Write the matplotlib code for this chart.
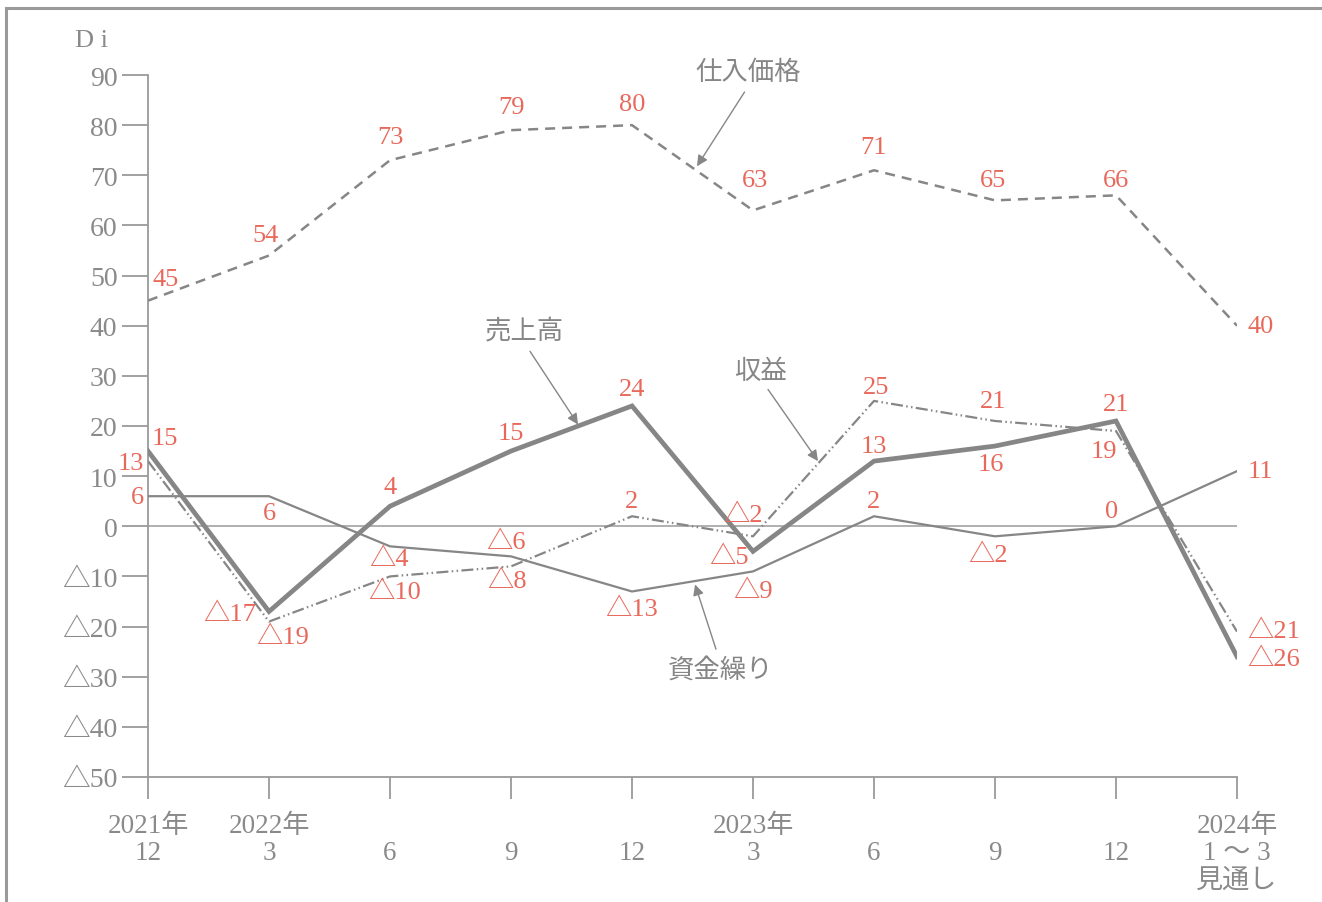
import matplotlib
matplotlib.use("Agg")
import matplotlib.pyplot as plt
from matplotlib.lines import Line2D

plt.rcParams["font.family"] = ["Liberation Serif", "Noto Sans CJK JP"]

GRAY = "#868686"
RED = "#e8695c"
TICK = "#8a8a8a"

# quarters on the x axis
xlabels = ["2021年\n12", "2022年\n3", "\n6", "\n9", "\n12",
           "2023年\n3", "\n6", "\n9", "\n12", "2024年\n1 ～ 3\n見通し"]

# DI values per series
purchase = [45, 54, 73, 79, 80, 63, 71, 65, 66, 40]     # 仕入価格
sales = [15, -17, 4, 15, 24, -5, 13, 16, 21, -26]       # 売上高
profit = [13, -19, -10, -8, 2, -2, 25, 21, 19, -21]     # 収益
cashflow = [6, 6, -4, -6, -13, -9, 2, -2, 0, 11]        # 資金繰り

yticks = list(range(-50, 91, 10))

# value label offsets in pixels (dx, dy)
purchase_off = [(18, 22), (-4, 21), (0, 23), (0, 23), (0, 21),
                (2, 30), (0, 23), (-2, 20), (0, 15), (24, 0)]
sales_off = [(17, 13), (-39, -2), (0, 19), (0, 18), (0, 17),
             (-24, -6), (0, 15), (-4, -18), (0, 17), (37, -2)]
profit_off = [(-17, -2), (14, -15), (5, -16), (-4, -15), (0, 15),
              (-10, 21), (2, 14), (-2, 20), (-12, -20), (37, 1)]
cash_off = [(-11, -1), (0, -17), (-1, -13), (-5, 14), (0, -18),
            (0, -20), (0, 15), (-7, -19), (-4, 15), (23, 0)]


def fmt(v):
    return f"△{abs(v)}" if v < 0 else str(v)


fig = plt.figure(figsize=(13.22, 9.03), dpi=100)
ax = fig.add_axes([148 / 1322, 125 / 903, 1089 / 1322, 702 / 903])

x = list(range(len(xlabels)))

ax.axhline(0, color="#9a9a9a", lw=1.1, zorder=1)

ax.plot(x, purchase, color=GRAY, lw=1.8, dashes=(4, 2.8), zorder=3)
ax.plot(x, cashflow, color=GRAY, lw=1.6, zorder=3)
ax.plot(x, profit, color=GRAY, lw=1.6,
        dashes=(5.4, 1.5, 0.7, 1.5, 0.7, 1.5), zorder=3)
ax.plot(x, sales, color=GRAY, lw=3.4, solid_joinstyle="miter", zorder=4)

for vals, offs in [(purchase, purchase_off), (sales, sales_off),
                   (profit, profit_off), (cashflow, cash_off)]:
    for xi, v, (dx, dy) in zip(x, vals, offs):
        ax.annotate(fmt(v), (xi, v), xytext=(dx, dy), textcoords="offset pixels",
                    ha="center", va="center", color=RED, fontsize=19, zorder=5)

# series names with arrows
arrow = dict(arrowstyle="-|>", color=GRAY, lw=1.0, mutation_scale=16,
             shrinkA=0, shrinkB=0)
names = [("仕入価格", (4.537, 71.8), (4.93, 86.6), (4.96, 90.6)),
         ("売上高", (3.554, 20.3), (3.157, 34.9), (3.11, 39.2)),
         ("収益", (5.537, 13.0), (5.124, 27.3), (5.06, 31.0)),
         ("資金繰り", (4.521, -11.6), (4.694, -24.5), (4.73, -28.6))]
for name, head, tail, pos in names:
    ax.annotate("", head, xytext=tail, arrowprops=arrow, zorder=6)
    ax.text(pos[0], pos[1], name, ha="center", va="center",
            color=GRAY, fontsize=19)

ax.set_xlim(0, 9)
ax.set_ylim(-50, 90)
ax.set_xticks(x)
ax.set_xticklabels(xlabels, linespacing=1.12)
ax.set_yticks(yticks)
ax.set_yticklabels([fmt(v) for v in yticks])

for side in ["top", "right"]:
    ax.spines[side].set_visible(False)
for side in ["left", "bottom"]:
    ax.spines[side].set_color("#9a9a9a")
    ax.spines[side].set_linewidth(1.3)

ax.tick_params(axis="y", length=19, width=1.3, color="#9a9a9a",
               labelcolor=TICK, labelsize=20, pad=3)
ax.tick_params(axis="x", length=16, width=1.3, color="#9a9a9a",
               labelcolor=TICK, labelsize=19.5, pad=10)

ax.text(-0.47, 97, "D i", ha="center", va="center", color=TICK, fontsize=19,
        clip_on=False)

# frame around the figure
fig.add_artist(Line2D([6 / 1322, 1.0], [1 - 9 / 903, 1 - 9 / 903],
                      transform=fig.transFigure, color="#9a9a9a", lw=2.2))
fig.add_artist(Line2D([6 / 1322, 6 / 1322], [0, 1 - 9 / 903],
                      transform=fig.transFigure, color="#9a9a9a", lw=2.2))

fig.savefig("out.png", dpi=100, facecolor="white")
